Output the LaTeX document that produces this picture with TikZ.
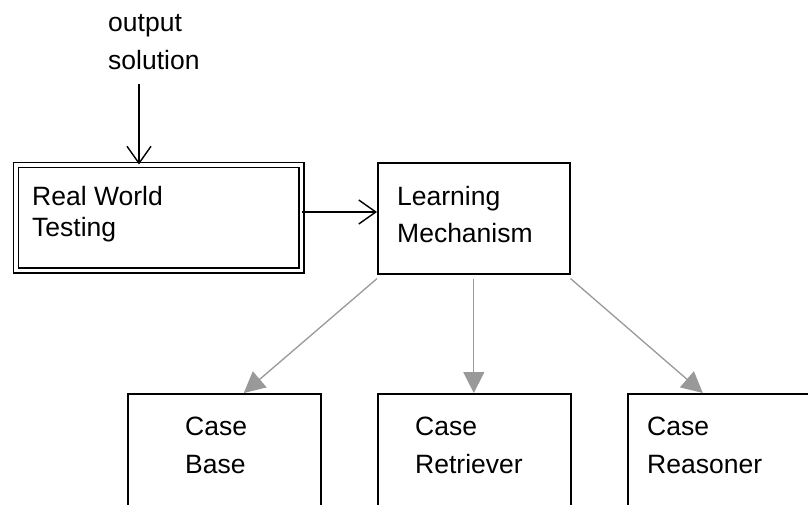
\documentclass[tikz,border=0pt]{standalone}
\usepackage{fontspec}
\setmainfont{Liberation Sans}
\usetikzlibrary{arrows.meta,calc}
\begin{document}
\begin{tikzpicture}[x=1pt,y=-1pt,
  box/.style={draw=black,line width=1.6pt,rectangle,inner sep=0pt,anchor=north west},
  txt/.style={inner sep=0pt,anchor=base west,font=\fontsize{26.5}{30}\selectfont},
  blk/.style={draw=black,line width=1.4pt,-{Straight Barb[length=17pt,width=24pt,line width=1.4pt]}},
  gry/.style={draw=black!40,line width=1.3pt,-{Triangle[length=21pt,width=21pt]}}]
\useasboundingbox (0,0) rectangle (808,505);
\clip (0,0) rectangle (808,505);
\fill[white] (0,0) rectangle (808,505);
% top text
\node[txt] (out) at (108,32) {output};
\node[txt] (sol) at (108,70) {solution};
\coordinate (solbot) at (139,84);
% real world testing (double border)
\node[draw=black,line width=1.5pt,double,double distance=3.5pt,rectangle,inner sep=0pt,anchor=north west,minimum width=285.5pt,minimum height=105pt] (rwt) at (15,164.5) {};
\node[txt] (rwt1) at (32,205) {Real World};
\node[txt] (rwt2) at (32,236) {Testing};
% learning mechanism
\node[box,minimum width=192pt,minimum height=111pt] (lm) at (377,162) {};
\node[txt] (lm1) at (397,205) {Learning};
\node[txt] (lm2) at (397,242) {Mechanism};
% bottom boxes
\node[box,minimum width=193pt,minimum height=160pt] (cb) at (127,393) {};
\node[box,minimum width=193pt,minimum height=160pt] (cr) at (377,393) {};
\node[box,minimum width=193pt,minimum height=160pt] (crs) at (627,393) {};
\node[txt] (cb1) at (185,435) {Case};
\node[txt] (cb2) at (185,473) {Base};
\node[txt] (cr1) at (415,435) {Case};
\node[txt] (cr2) at (415,473) {Retriever};
\node[txt] (crs1) at (647,435) {Case};
\node[txt] (crs2) at (647,473) {Reasoner};
% connectors
\draw[blk] (solbot) -- (solbot |- rwt.north);
\draw[blk] (rwt.east |- 0,212) -- (lm.west |- 0,212);
\draw[gry] ($(lm.south west)+(0,4)$) -- ($(cb.north)+(19.5,0)$);
\draw[gry] ($(lm.south)+(0,4)$) -- (lm.south |- cr.north);
\draw[gry] ($(lm.south east)+(0,4)$) -- ($(crs.north)+(-21.5,0)$);
\end{tikzpicture}
\end{document}
